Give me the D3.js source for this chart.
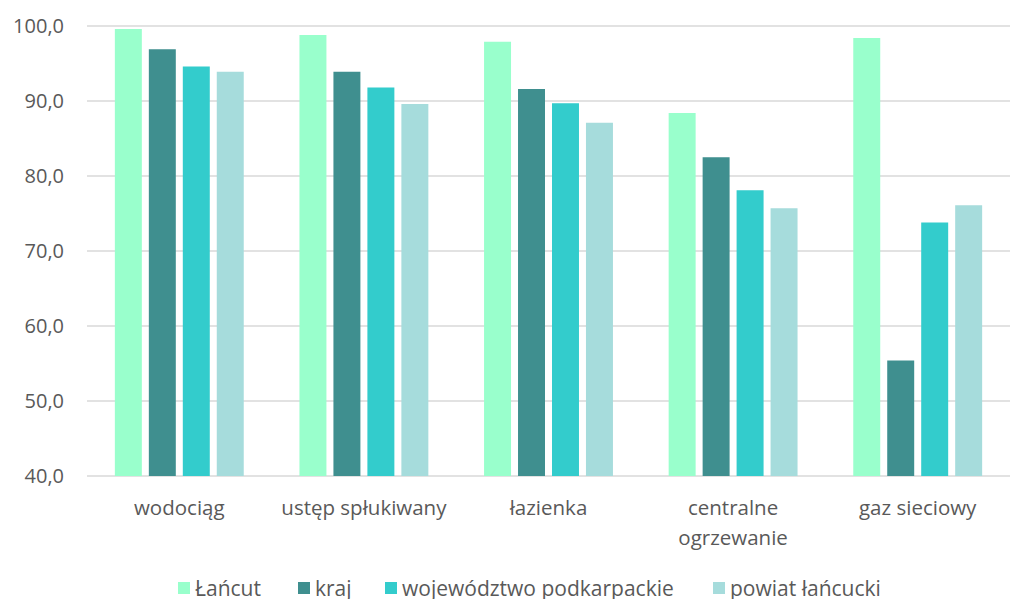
<!DOCTYPE html>
<html>
<head>
<meta charset="utf-8">
<script src="https://d3js.org/d3.v7.min.js"></script>
<style>
body { margin: 0; background: #fff; font-family: 'Open Sans', 'Noto Sans', sans-serif; }
</style>
</head>
<body>
<div id="chart"></div>
<script>

var width = 1017;
var height = 599;

var categories = [["wodociąg"], ["ustęp spłukiwany"], ["łazienka"], ["centralne", "ogrzewanie"], ["gaz sieciowy"]];
var seriesNames = ["Łańcut", "kraj", "województwo podkarpackie", "powiat łańcucki"];
var colors = ["#99ffcc", "#3f8f8f", "#33cccc", "#a6dcdc"];

var lancut = [99.6, 98.8, 97.9, 88.4, 98.4];
var kraj = [96.9, 93.9, 91.6, 82.5, 55.4];
var wojewodztwo = [94.6, 91.8, 89.7, 78.1, 73.8];
var powiat = [93.9, 89.6, 87.1, 75.7, 76.1];
var series = [lancut, kraj, wojewodztwo, powiat];

var yTicks = [40, 50, 60, 70, 80, 90, 100];

var plotLeft = 87, plotRight = 1010, plotTop = 26, plotBottom = 476;

var svg = d3.select("#chart")
  .append("svg")
  .attr("width", width)
  .attr("height", height);

var x0 = d3.scaleBand()
  .domain(d3.range(categories.length))
  .range([plotLeft, plotRight]);

var x1 = d3.scaleBand()
  .domain(d3.range(series.length))
  .range([0, x0.bandwidth()])
  .paddingInner(0.206)
  .paddingOuter(0.82);

var y = d3.scaleLinear()
  .domain([40, 100])
  .range([plotBottom, plotTop]);

//gridlines
svg.append("g")
  .selectAll("line")
  .data(yTicks)
  .enter()
  .append("line")
  .attr("x1", plotLeft)
  .attr("x2", plotRight)
  .attr("y1", d => y(d))
  .attr("y2", d => y(d))
  .style("stroke", "#d9d9d9")
  .style("stroke-width", 1.3);

//y labels
svg.append("g")
  .selectAll("text")
  .data(yTicks)
  .enter()
  .append("text")
  .attr("x", 64)
  .attr("y", d => y(d) + 7)
  .attr("text-anchor", "end")
  .style("font-size", "20px")
  .style("fill", "#595959")
  .text(d => d.toFixed(1).replace(".", ","));

//bars
series.forEach(function(vals, s) {
  svg.append("g")
    .selectAll("rect")
    .data(vals)
    .enter()
    .append("rect")
    .attr("x", (d, i) => x0(i) + x1(s))
    .attr("width", x1.bandwidth())
    .attr("y", d => y(d))
    .attr("height", d => y(40) - y(d))
    .style("fill", colors[s]);
});

//category labels
var cat = svg.append("g")
  .selectAll("text")
  .data(categories)
  .enter()
  .append("text")
  .attr("x", (d, i) => x0(i) + x0.bandwidth() / 2)
  .attr("y", 515)
  .attr("text-anchor", "middle")
  .style("font-size", "20.5px")
  .style("fill", "#595959");

cat.selectAll("tspan")
  .data(d => d)
  .enter()
  .append("tspan")
  .attr("x", function() { return d3.select(this.parentNode).attr("x"); })
  .attr("dy", (d, i) => i == 0 ? 0 : 30)
  .text(d => d);

//legend
var legendX = [178, 298, 385, 713];
var legend = svg.append("g")
  .selectAll("g")
  .data(seriesNames)
  .enter()
  .append("g")
  .attr("transform", (d, i) => "translate(" + legendX[i] + ",582)");

legend.append("rect")
  .attr("width", 12)
  .attr("height", 12)
  .style("fill", (d, i) => colors[i]);

legend.append("text")
  .attr("x", 17)
  .attr("y", 14)
  .style("font-size", "21px")
  .style("fill", "#595959")
  .text(d => d);

</script>
</body>
</html>
